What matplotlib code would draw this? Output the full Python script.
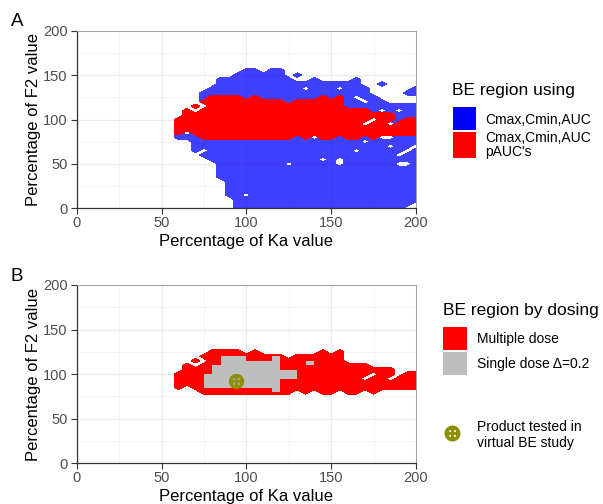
import numpy as np
import matplotlib
matplotlib.use('Agg')
import matplotlib.pyplot as plt
from matplotlib.patches import Rectangle
from matplotlib.path import Path
from matplotlib.lines import Line2D
from matplotlib.colors import ListedColormap

plt.rcParams['font.family'] = ['Liberation Sans', 'DejaVu Sans']

# grid columns (percentage of Ka), step 5
ka_cols = [60, 65, 70, 75, 80, 85, 90, 95, 100, 105, 110, 115, 120, 125, 130,
           135, 140, 145, 150, 155, 160, 165, 170, 175, 180, 185, 190, 195, 200]

# region Cmax,Cmin,AUC (blue): lowest / highest F2 per column
blue_lo = [80, 80, 65, 60, 55, 35, 15, 0, 0, 0, 0, 0, 0, 0, 0,
           0, 0, 0, 0, 0, 0, 0, 0, 0, 0, 0, 0, 0, 0]
blue_hi = [100, 110, 115, 130, 135, 145, 145, 150, 155, 155, 150, 155, 155, 145, 150,
           140, 145, 140, 140, 140, 140, 145, 135, 125, 120, 115, 115, 115, 115]
blue_holes = [(100, 15), (125, 50), (145, 55), (155, 50), (155, 55), (165, 65),
              (170, 75), (185, 70), (190, 60), (195, 65), (190, 50), (195, 50),
              (180, 80), (185, 80), (200, 70), (140, 80), (75, 65), (65, 85),
              (200, 0), (200, 5), (195, 0), (130, 145), (135, 135), (155, 135),
              (165, 125), (170, 120), (180, 110), (190, 110)]
blue_extra = [(180, 140), (195, 130), (200, 130), (200, 135)]

# region Cmax,Cmin,AUC,pAUC's / multiple dose (red)
red_lo = [85, 90, 85, 80, 80, 80, 80, 80, 80, 80, 80, 80, 80, 80, 85,
          80, 85, 80, 80, 85, 80, 80, 85, 80, 85, 85, 85, 85, 85]
red_hi = [100, 110, 115, 120, 125, 125, 125, 125, 120, 125, 120, 120, 120, 115, 120,
          120, 120, 125, 120, 125, 110, 110, 110, 105, 105, 105, 95, 100, 100]
red_holes = [(70, 110), (75, 115), (170, 95), (175, 100), (185, 95)]

# single dose delta=0.2 (gray tiles): column, bottom edge, top edge
gray_ka = [75, 80, 85, 90, 95, 100, 105, 110, 115, 120, 125, 135]
gray_lo = [85, 85, 85, 85, 85, 85, 85, 85, 80, 95, 95, 110]
gray_hi = [100, 110, 120, 120, 120, 115, 115, 115, 120, 105, 105, 115]

# product tested in virtual BE study
product_ka = [94]
product_f2 = [92]

grid = np.arange(0, 205, 5)
KA, F2 = np.meshgrid(grid, grid)


def make_mask(lo, hi, holes=(), extra=()):
    m = np.zeros(KA.shape)
    for k, a, b in zip(ka_cols, lo, hi):
        m[(KA == k) & (F2 >= a) & (F2 <= b)] = 1
    for k, f in extra:
        m[(KA == k) & (F2 == f)] = 1
    for k, f in holes:
        m[(KA == k) & (F2 == f)] = 0
    return m


blue_mask = make_mask(blue_lo, blue_hi, blue_holes + red_holes, blue_extra)
red_mask = make_mask(red_lo, red_hi, red_holes)

gray_cells = np.zeros((len(grid) - 1, len(grid) - 1))
for k, a, b in zip(gray_ka, gray_lo, gray_hi):
    j = k // 5
    for f in range(a, b, 5):
        gray_cells[f // 5, j] = 1
gray_cells = np.ma.masked_equal(gray_cells, 0)

W, H = 603, 504
fig = plt.figure(figsize=(W / 100, H / 100), dpi=100)


def fx(px):
    return px / W


def fy(py):
    return 1 - py / H


def style_ax(ax):
    ax.set_xlim(0, 200)
    ax.set_ylim(0, 200)
    ticks = [0, 50, 100, 150, 200]
    ax.set_xticks(ticks)
    ax.set_yticks(ticks)
    ax.set_xticks([25, 75, 125, 175], minor=True)
    ax.set_yticks([25, 75, 125, 175], minor=True)
    ax.grid(which='major', color='#EBEBEB', lw=0.9)
    ax.grid(which='minor', color='#F3F3F3', lw=0.6)
    ax.set_axisbelow(True)
    ax.tick_params(which='minor', length=0)
    ax.tick_params(which='major', length=4, width=0.8, color='#333333',
                   labelcolor='#4D4D4D', labelsize=10.5)
    ax.tick_params(axis='x', pad=1.5)
    ax.tick_params(axis='y', pad=2.5)
    for s in ['left', 'bottom']:
        ax.spines[s].set_color('#333333')
        ax.spines[s].set_linewidth(0.9)
    for s in ['top', 'right']:
        ax.spines[s].set_color('#A0A0A0')
        ax.spines[s].set_linewidth(0.7)
    ax.set_xlabel('Percentage of Ka value', fontsize=12, va='center')
    ax.set_ylabel('Percentage of F2 value', fontsize=12, va='center')
    ax.xaxis.set_label_coords(0.5, -0.188)
    ax.yaxis.set_label_coords(-0.127, 0.5)


def button_marker():
    t = np.linspace(0, 2 * np.pi, 60, endpoint=False)
    verts, codes = [], []

    def ring(cx, cy, r, ccw):
        tt = t if ccw else t[::-1]
        pts = np.column_stack([cx + r * np.cos(tt), cy + r * np.sin(tt)])
        verts.extend(pts.tolist())
        verts.append(pts[0].tolist())
        codes.extend([Path.MOVETO] + [Path.LINETO] * (len(pts) - 1) + [Path.CLOSEPOLY])

    ring(0, 0, 1, True)
    for dx, dy in [(-0.3, 0.3), (0.3, 0.3), (-0.3, -0.3), (0.3, -0.3)]:
        ring(dx, dy, 0.13, False)
    return Path(verts, codes)


olive = '#8E8E00'
btn = button_marker()

# panel A
axA = fig.add_axes([fx(76.7), fy(208.3), fx(416) - fx(76.7), fy(30.7) - fy(208.3)])
axA.contourf(KA, F2, blue_mask, levels=[0.5, 1.5], colors=['#0000FF'], alpha=0.75)
axA.contourf(KA, F2, red_mask, levels=[0.5, 1.5], colors=['#FF0000'])
style_ax(axA)

# panel B
axB = fig.add_axes([fx(76.7), fy(463.3), fx(416) - fx(76.7), fy(285) - fy(463.3)])
axB.contourf(KA, F2, red_mask, levels=[0.5, 1.5], colors=['#FF0000'])
axB.pcolormesh(grid, grid, gray_cells, cmap=ListedColormap(['#BEBEBE']), vmin=0, vmax=1)
axB.plot(product_ka, product_f2, ls='none', marker=btn, ms=11, color=olive, mec='none')
style_ax(axB)

# panel letters
fig.text(fx(11), fy(21.5), 'A', fontsize=13.5, va='center', ha='left')
fig.text(fx(11), fy(276.5), 'B', fontsize=13.5, va='center', ha='left')


def key(px, py, w, h, color):
    fig.add_artist(Rectangle((fx(px), fy(py + h)), w / W, h / H, transform=fig.transFigure,
                             facecolor=color, edgecolor='none'))


# legend A
fig.text(fx(452), fy(90), 'BE region using', fontsize=12.5, va='center')
key(452.7, 106.7, 23, 23.3, '#0000FF')
key(452.7, 131.7, 23, 26.6, '#FF0000')
fig.text(fx(485), fy(120), 'Cmax,Cmin,AUC', fontsize=10, va='center')
fig.text(fx(485), fy(145), "Cmax,Cmin,AUC\npAUC's", fontsize=10, va='center', linespacing=1.0)

# legend B
fig.text(fx(443), fy(310), 'BE region by dosing', fontsize=12.5, va='center')
key(443, 326.7, 23.7, 23.3, '#FF0000')
key(443, 351.7, 23.7, 23.3, '#BEBEBE')
fig.text(fx(476.7), fy(339), 'Multiple dose', fontsize=10, va='center')
fig.text(fx(476.7), fy(364), 'Single dose \u0394=0.2', fontsize=10, va='center')
fig.add_artist(Line2D([fx(451.7)], [fy(433.3)], transform=fig.transFigure, ls='none',
                      marker=btn, ms=11.5, color=olive, mec='none'))
fig.text(fx(476.7), fy(435), 'Product tested in\nvirtual BE study', fontsize=10,
         va='center', linespacing=1.15)

fig.savefig('out.png', dpi=100)
